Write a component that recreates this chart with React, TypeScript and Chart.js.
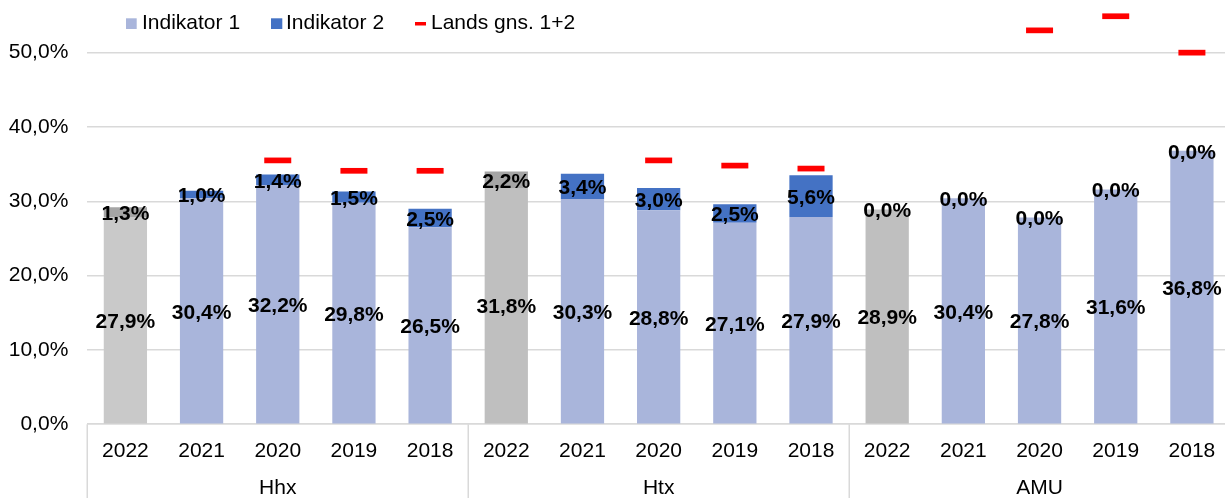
import React, { useEffect, useRef } from "react";
import { Chart, registerables } from "chart.js";

Chart.register(...registerables);

const years = ["2022", "2021", "2020", "2019", "2018"];
const groups = ["Hhx", "Htx", "AMU"];
const categories = groups.flatMap(() => years);

const indikator1 = [27.9, 30.4, 32.2, 29.8, 26.5, 31.8, 30.3, 28.8, 27.1, 27.9, 28.9, 30.4, 27.8, 31.6, 36.8];
const indikator2 = [1.3, 1.0, 1.4, 1.5, 2.5, 2.2, 3.4, 3.0, 2.5, 5.6, 0.0, 0.0, 0.0, 0.0, 0.0];
const landsGns = [null, null, 35.5, 34.1, 34.1, null, null, 35.5, 34.8, 34.4, null, null, 53.0, 54.9, 50.0];

const yTicks = [0, 10, 20, 30, 40, 50];

const FONT = "'Liberation Sans', Arial, sans-serif";
const LIGHT_BLUE = "#A9B5DB";
const DARK_BLUE = "#4472C4";
const RED = "#FF0000";
const GRID = "#D9D9D9";

const ind1Colors = indikator1.map((_, i) => (i === 0 ? "#C9C9C9" : i === 5 || i === 10 ? "#BFBFBF" : LIGHT_BLUE));
const ind2Colors = indikator2.map((_, i) => (i === 0 || i === 5 || i === 10 ? "#A5A5A5" : DARK_BLUE));

const fmt = (v: number) => v.toFixed(1).replace(".", ",") + "%";

const overlayPlugin = {
  id: "overlay",
  afterDraw(chart: any) {
    const ctx = chart.ctx;
    const area = chart.chartArea;
    const xs = chart.scales.x;
    ctx.save();

    // data labels
    ctx.font = `bold 21px ${FONT}`;
    ctx.fillStyle = "#000";
    ctx.textAlign = "center";
    ctx.textBaseline = "middle";
    [0, 1].forEach((di) => {
      const meta = chart.getDatasetMeta(di);
      const data = chart.data.datasets[di].data as number[];
      meta.data.forEach((el: any, i: number) => {
        const v = data[i];
        if (v === null || v === undefined) return;
        const cy = (el.y + el.base) / 2 + 2;
        ctx.fillText(fmt(v), el.x, cy);
      });
    });

    // group separators and labels
    const step = xs.getPixelForValue(1) - xs.getPixelForValue(0);
    ctx.strokeStyle = GRID;
    ctx.lineWidth = 1.5;
    for (let g = 0; g <= groups.length; g++) {
      const idx = g * years.length;
      const x = Math.round(xs.getPixelForValue(0) - step / 2 + idx * step) + 0.25;
      ctx.beginPath();
      ctx.moveTo(x, area.bottom);
      ctx.lineTo(x, chart.height);
      ctx.stroke();
    }
    ctx.font = `21px ${FONT}`;
    ctx.fillStyle = "#000";
    groups.forEach((g, gi) => {
      const a = xs.getPixelForValue(gi * years.length);
      const b = xs.getPixelForValue(gi * years.length + years.length - 1);
      ctx.fillText(g, (a + b) / 2, 488);
    });

    // legend
    ctx.textAlign = "left";
    ctx.textBaseline = "middle";
    ctx.fillStyle = LIGHT_BLUE;
    ctx.fillRect(126, 18.3, 10.7, 10.7);
    ctx.fillStyle = DARK_BLUE;
    ctx.fillRect(271, 18.3, 11.3, 10.7);
    ctx.fillStyle = RED;
    ctx.fillRect(415, 22, 11, 3.5);
    ctx.fillStyle = "#000";
    ctx.fillText("Indikator 1", 142, 23.5);
    ctx.fillText("Indikator 2", 286, 23.5);
    ctx.fillText("Lands gns. 1+2", 431, 23.5);
    ctx.restore();
  },
};

export default function App() {
  const ref = useRef<HTMLCanvasElement | null>(null);
  useEffect(() => {
    if (!ref.current) return;
    Chart.defaults.font.family = FONT;
    const chart = new Chart(ref.current, {
      type: "bar",
      data: {
        labels: categories,
        datasets: [
          {
            label: "Indikator 1",
            data: indikator1,
            backgroundColor: ind1Colors,
            stack: "bars",
            categoryPercentage: 1,
            barPercentage: 0.568,
            order: 2,
          },
          {
            label: "Indikator 2",
            data: indikator2,
            backgroundColor: ind2Colors,
            stack: "bars",
            categoryPercentage: 1,
            barPercentage: 0.568,
            order: 2,
          },
          {
            type: "line",
            label: "Lands gns. 1+2",
            data: landsGns as any,
            showLine: false,
            stack: "line",
            pointStyle: "line",
            pointRadius: 13.5,
            pointHoverRadius: 13.5,
            borderColor: RED,
            backgroundColor: RED,
            borderWidth: 5.7,
            pointBorderWidth: 5.7,
            clip: false as any,
            order: 1,
          } as any,
        ],
      },
      options: {
        animation: false,
        responsive: true,
        maintainAspectRatio: false,
        layout: { autoPadding: false, padding: { top: 15.5, right: 10, left: 0, bottom: 0 } },
        plugins: {
          legend: { display: false },
          tooltip: { enabled: false },
        },
        scales: {
          x: {
            stacked: true,
            grid: { display: false, drawTicks: false },
            border: { display: true, color: GRID, width: 1.5 },
            ticks: {
              color: "#000",
              font: { size: 21, family: FONT },
              padding: 14,
              maxRotation: 0,
              autoSkip: false,
            },
            afterFit: (s: any) => {
              s.height = 73.8;
            },
          },
          y: {
            stacked: true,
            min: 0,
            max: 55,
            grid: { color: GRID, lineWidth: 1.5, drawTicks: false },
            border: { display: false },
            ticks: {
              color: "#000",
              font: { size: 21, family: FONT },
              padding: 19,
              callback: (v: any) => fmt(Number(v)),
            },
            afterBuildTicks: (s: any) => {
              s.ticks = yTicks.map((v) => ({ value: v }));
            },
            afterFit: (s: any) => {
              s.width = 87.3;
              s.paddingTop = 0;
              s.paddingBottom = 0;
            },
          },
        },
      },
      plugins: [overlayPlugin],
    });
    return () => chart.destroy();
  }, []);

  return (
    <div style={{ position: "fixed", left: 0, top: 0, width: 1225, height: 498, overflow: "hidden", background: "#fff" }}>
      <div style={{ position: "relative", width: 1240, height: 498 }}>
        <canvas ref={ref} />
      </div>
    </div>
  );
}
